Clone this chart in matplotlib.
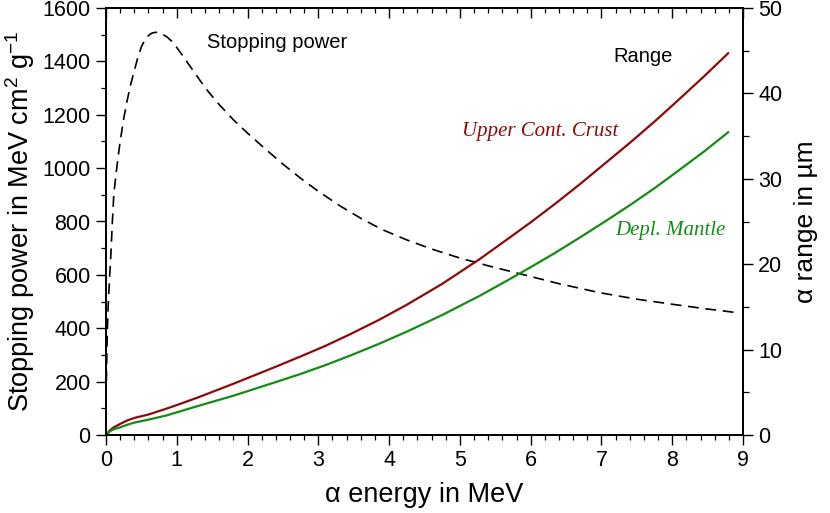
import numpy as np
import matplotlib
matplotlib.use("Agg")
import matplotlib.pyplot as plt
from matplotlib.ticker import MultipleLocator

plt.rcParams['font.family'] = ['Liberation Sans', 'DejaVu Sans']
plt.rcParams['mathtext.fontset'] = 'custom'
plt.rcParams['mathtext.rm'] = 'Liberation Sans'
plt.rcParams['mathtext.it'] = 'Liberation Sans:italic'

# stopping power (MeV cm2/g) vs alpha energy (MeV)
sp_energy = [0.005, 0.018, 0.03, 0.047, 0.07, 0.09, 0.11, 0.14, 0.17, 0.2, 0.25, 0.3,
             0.35, 0.4, 0.45, 0.5, 0.55, 0.6, 0.65, 0.7, 0.75, 0.8, 0.86, 0.93, 1.0,
             1.1, 1.2, 1.33, 1.45, 1.6, 1.8, 2.0, 2.25, 2.5, 2.75, 3.0, 3.31, 3.6,
             3.9, 4.25, 4.6, 5.0, 5.4, 5.85, 6.4, 6.98, 7.5, 8.0, 8.5, 8.96]
stopping_power = [200, 382, 480, 570, 682, 800, 900, 975, 1040, 1100, 1185, 1255,
                  1315, 1365, 1415, 1455, 1480, 1497, 1506, 1509, 1507, 1501, 1492, 1475, 1452,
                  1415, 1377, 1328, 1285, 1238, 1181, 1131, 1072, 1015, 962, 913, 858, 812,
                  770, 731, 697, 663, 634, 604, 567, 533, 509, 490, 472, 457]

# alpha range (um)
crust_energy = [0, 0.05, 0.1, 0.2, 0.3, 0.4, 0.6, 0.86, 1.1, 1.3, 1.55, 1.8, 2.1, 2.4,
                2.75, 3.09, 3.45, 3.85, 4.25, 4.75, 5.28, 5.65, 6.0, 6.35, 6.7, 7.05,
                7.4, 7.75, 8.07, 8.45, 8.79]
crust_range = [0, 0.5, 0.85, 1.3, 1.7, 2.0, 2.4, 3.1, 3.8, 4.4, 5.2, 6.0, 7.0, 8.0,
               9.2, 10.4, 11.8, 13.45, 15.25, 17.7, 20.6, 22.8, 24.9, 27.1, 29.4, 31.8,
               34.2, 36.7, 39.1, 42.0, 44.7]
mantle_energy = [0, 0.05, 0.1, 0.2, 0.3, 0.4, 0.6, 0.86, 1.1, 1.3, 1.55, 1.8, 2.1, 2.4,
                 2.75, 3.09, 3.45, 3.85, 4.25, 4.75, 5.28, 5.65, 6.0, 6.35, 6.7, 7.05,
                 7.4, 7.75, 8.07, 8.45, 8.79]
mantle_range = [0, 0.4, 0.65, 0.9, 1.2, 1.45, 1.8, 2.3, 2.9, 3.4, 4.0, 4.6, 5.4, 6.2,
                7.15, 8.15, 9.3, 10.65, 12.1, 14.05, 16.3, 18.0, 19.65, 21.35, 23.15, 25.0,
                26.9, 28.9, 30.85, 33.2, 35.45]

red = '#8b0a0a'
green = '#138c13'

fig = plt.figure(figsize=(8.3, 5.13), dpi=100)
ax = fig.add_axes([106/830, 78/513, 637/830, 427/513])
ax2 = ax.twinx()

ax.plot(sp_energy, stopping_power, color='black', lw=1.2, ls=(0, (6.5, 4)))
ax2.plot(crust_energy, crust_range, color=red, lw=1.6)
ax2.plot(mantle_energy, mantle_range, color=green, lw=1.6)

ax.set_xlim(0, 9)
ax.set_ylim(0, 1600)
ax2.set_ylim(0, 50)

ax.xaxis.set_major_locator(MultipleLocator(1))
ax.xaxis.set_minor_locator(MultipleLocator(0.2))
ax.yaxis.set_major_locator(MultipleLocator(200))
ax.yaxis.set_minor_locator(MultipleLocator(100))
ax2.yaxis.set_major_locator(MultipleLocator(10))
ax2.yaxis.set_minor_locator(MultipleLocator(5))

for a in (ax, ax2):
    for s in a.spines.values():
        s.set_linewidth(1.3)

ax.tick_params(axis='both', which='major', direction='out', length=7, width=1.0,
               labelsize=15.5, pad=4)
ax.tick_params(axis='both', which='minor', direction='out', length=3.5, width=0.9)
ax.tick_params(axis='y', right=False, which='both')
ax2.tick_params(axis='y', which='major', direction='out', length=7, width=1.0,
                labelsize=15.5, pad=4)
ax2.tick_params(axis='y', which='minor', direction='out', length=4.5, width=0.9)

top = ax.secondary_xaxis('top')
top.xaxis.set_major_locator(MultipleLocator(1))
top.xaxis.set_minor_locator(MultipleLocator(0.2))
top.tick_params(which='major', direction='in', length=7, width=1.0, labeltop=False)
top.tick_params(which='minor', direction='in', length=3.5, width=0.9)
top.spines['top'].set_linewidth(1.3)

ax.set_xlabel('α energy in MeV', fontsize=19.5, labelpad=8)
ax.set_ylabel('Stopping power in MeV cm$^2$ g$^{-1}$', fontsize=19.5, labelpad=4)
ax2.set_ylabel('α range in µm', fontsize=19, labelpad=8)

ax.text(2.42, 1469, 'Stopping power', fontsize=14.5, ha='center', va='center')
ax.text(7.59, 1420, 'Range', fontsize=14.5, ha='center', va='center')
ax.text(6.13, 1139, 'Upper Cont. Crust', fontsize=15, ha='center', va='center',
        color=red, style='italic', family='Liberation Serif')
ax.text(7.97, 768, 'Depl. Mantle', fontsize=15, ha='center', va='center',
        color=green, style='italic', family='Liberation Serif')

fig.savefig('out.png', dpi=100)
